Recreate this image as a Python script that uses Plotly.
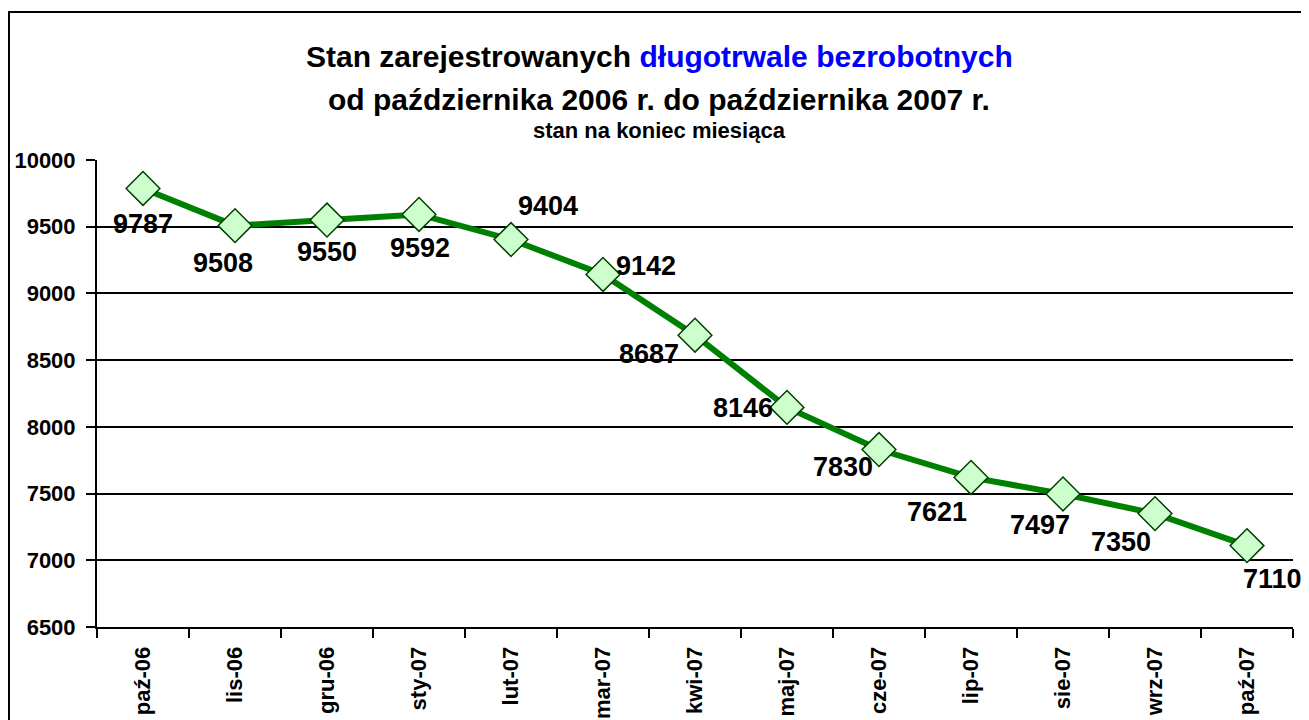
import plotly.graph_objects as go

months = ["paź-06", "lis-06", "gru-06", "sty-07", "lut-07", "mar-07", "kwi-07",
          "maj-07", "cze-07", "lip-07", "sie-07", "wrz-07", "paź-07"]
values = [9787, 9508, 9550, 9592, 9404, 9142, 8687, 8146, 7830, 7621, 7497, 7350, 7110]
y_ticks = [6500, 7000, 7500, 8000, 8500, 9000, 9500, 10000]

# label offsets in pixels (style only)
label_dx = [0, -12, 0, 1, 37, 43, -46, -44, -36, -34, -23, -34, 25]
label_dy = [-36, -37, -32, -34, 34, 8, -19, -1, -17, -35, -31, -28, -33]

FONT = "Liberation Sans, Arial, sans-serif"

fig = go.Figure()
fig.add_trace(go.Scatter(
    x=months, y=values, mode="lines+markers",
    line=dict(color="#008000", width=6),
    marker=dict(symbol="diamond", size=26, color="#ccffcc",
                line=dict(color="#004000", width=1.5)),
    cliponaxis=False, hoverinfo="x+y", showlegend=False,
))

annotations = []
for m, v, dx, dy in zip(months, values, label_dx, label_dy):
    annotations.append(dict(x=m, y=v, xref="x", yref="y", text=f"<b>{v}</b>",
                            showarrow=False, xshift=dx, yshift=dy,
                            xanchor="center", yanchor="middle",
                            font=dict(family=FONT, size=27, color="black")))

annotations += [
    dict(x=0.47, y=1.2206, xref="paper", yref="paper", showarrow=False,
         xanchor="center", yanchor="middle",
         text="<b>Stan zarejestrowanych <span style='color:#0000FF'>długotrwale bezrobotnych</span></b>",
         font=dict(family=FONT, size=30, color="black")),
    dict(x=0.47, y=1.1285, xref="paper", yref="paper", showarrow=False,
         xanchor="center", yanchor="middle",
         text="<b>od października 2006 r. do października 2007 r.</b>",
         font=dict(family=FONT, size=30, color="black")),
    dict(x=0.47, y=1.0621, xref="paper", yref="paper", showarrow=False,
         xanchor="center", yanchor="middle",
         text="<b>stan na koniec miesiąca</b>",
         font=dict(family=FONT, size=22, color="black")),
]

fig.update_layout(
    width=1309, height=720,
    margin=dict(l=89, r=24, t=152, b=101),
    paper_bgcolor="white", plot_bgcolor="white",
    annotations=annotations,
    shapes=[dict(type="rect", xref="paper", yref="paper",
                 x0=-0.0736, x1=1.03, y0=-0.3, y1=1.317,
                 line=dict(color="black", width=2), layer="below")],
    xaxis=dict(type="category", range=[-0.5, 12.5], tickangle=-90,
               ticks="outside", tickson="boundaries", ticklen=9, tickwidth=2,
               tickcolor="black", showline=True, linecolor="black", linewidth=2,
               showgrid=False, tickfont=dict(family=FONT, size=22, color="black"),
               ticklabelstandoff=9, automargin=False, fixedrange=True),
    yaxis=dict(range=[6500, 10000], tickvals=y_ticks,
               ticktext=[f"<b>{t}</b>" for t in y_ticks],
               ticks="outside", ticklen=9, tickwidth=2, tickcolor="black",
               showline=True, linecolor="black", linewidth=2,
               showgrid=True, gridcolor="black", gridwidth=1.5, zeroline=False,
               tickfont=dict(family=FONT, size=22, color="black"),
               ticklabelstandoff=6, automargin=False, fixedrange=True),
)
fig.update_xaxes(ticktext=[f"<b>{m}</b>" for m in months], tickvals=months)

fig.write_html("out.html")
